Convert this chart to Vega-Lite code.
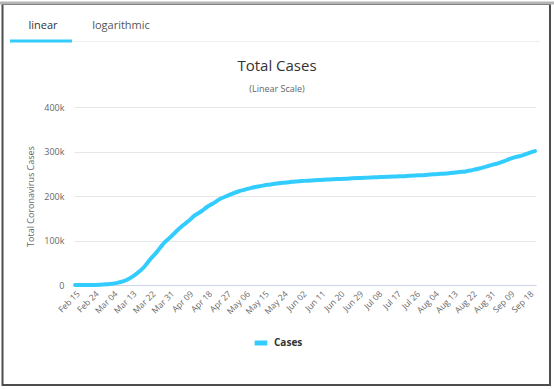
{
  "$schema": "https://vega.github.io/schema/vega-lite/v6.json",
  "width": 462,
  "height": 178,
  "autosize": "none",
  "padding": {"left": 74, "top": 107, "right": 18, "bottom": 104},
  "background": "white",
  "config": {
    "font": "Open Sans",
    "view": {"stroke": null}
  },
  "data": {
    "values": [
      {"date": "2020-02-15", "cases": 3},
      {"date": "2020-02-18", "cases": 3},
      {"date": "2020-02-21", "cases": 20},
      {"date": "2020-02-24", "cases": 229},
      {"date": "2020-02-27", "cases": 655},
      {"date": "2020-03-01", "cases": 1694},
      {"date": "2020-03-04", "cases": 3089},
      {"date": "2020-03-07", "cases": 5883},
      {"date": "2020-03-10", "cases": 10149},
      {"date": "2020-03-13", "cases": 17660},
      {"date": "2020-03-16", "cases": 27980},
      {"date": "2020-03-19", "cases": 41035},
      {"date": "2020-03-22", "cases": 59138},
      {"date": "2020-03-25", "cases": 74386},
      {"date": "2020-03-28", "cases": 92472},
      {"date": "2020-03-31", "cases": 105792},
      {"date": "2020-04-03", "cases": 119827},
      {"date": "2020-04-06", "cases": 132547},
      {"date": "2020-04-09", "cases": 143626},
      {"date": "2020-04-12", "cases": 156363},
      {"date": "2020-04-15", "cases": 165155},
      {"date": "2020-04-18", "cases": 175925},
      {"date": "2020-04-21", "cases": 183957},
      {"date": "2020-04-24", "cases": 192994},
      {"date": "2020-04-27", "cases": 199414},
      {"date": "2020-04-30", "cases": 205463},
      {"date": "2020-05-03", "cases": 210717},
      {"date": "2020-05-06", "cases": 214457},
      {"date": "2020-05-09", "cases": 218268},
      {"date": "2020-05-12", "cases": 221216},
      {"date": "2020-05-15", "cases": 223885},
      {"date": "2020-05-18", "cases": 225886},
      {"date": "2020-05-21", "cases": 228006},
      {"date": "2020-05-24", "cases": 229858},
      {"date": "2020-05-27", "cases": 231139},
      {"date": "2020-05-30", "cases": 232664},
      {"date": "2020-06-02", "cases": 233515},
      {"date": "2020-06-05", "cases": 234531},
      {"date": "2020-06-08", "cases": 235278},
      {"date": "2020-06-11", "cases": 236142},
      {"date": "2020-06-14", "cases": 236989},
      {"date": "2020-06-17", "cases": 237828},
      {"date": "2020-06-20", "cases": 238275},
      {"date": "2020-06-23", "cases": 238833},
      {"date": "2020-06-26", "cases": 239706},
      {"date": "2020-06-29", "cases": 240436},
      {"date": "2020-07-02", "cases": 240961},
      {"date": "2020-07-05", "cases": 241611},
      {"date": "2020-07-08", "cases": 242149},
      {"date": "2020-07-11", "cases": 242827},
      {"date": "2020-07-14", "cases": 243344},
      {"date": "2020-07-17", "cases": 243967},
      {"date": "2020-07-20", "cases": 244434},
      {"date": "2020-07-23", "cases": 245338},
      {"date": "2020-07-26", "cases": 246286},
      {"date": "2020-07-29", "cases": 246776},
      {"date": "2020-08-01", "cases": 247832},
      {"date": "2020-08-04", "cases": 248803},
      {"date": "2020-08-07", "cases": 249756},
      {"date": "2020-08-10", "cases": 250566},
      {"date": "2020-08-13", "cases": 252235},
      {"date": "2020-08-16", "cases": 253915},
      {"date": "2020-08-19", "cases": 255278},
      {"date": "2020-08-22", "cases": 258136},
      {"date": "2020-08-25", "cases": 261174},
      {"date": "2020-08-28", "cases": 264774},
      {"date": "2020-08-31", "cases": 269214},
      {"date": "2020-09-03", "cases": 272912},
      {"date": "2020-09-06", "cases": 277634},
      {"date": "2020-09-09", "cases": 283180},
      {"date": "2020-09-12", "cases": 287753},
      {"date": "2020-09-15", "cases": 291442},
      {"date": "2020-09-18", "cases": 296569},
      {"date": "2020-09-21", "cases": 300897}
    ]
  },
  "layer": [
    {
      "data": {"values": [{"frame": "border"}]},
      "mark": {"type": "rect", "fill": null, "stroke": "#4d4d4d", "strokeWidth": 2},
      "encoding": {
        "x": {"value": -71.5},
        "x2": {"value": 476},
        "y": {"value": -103},
        "y2": {"value": 278}
      }
    },
    {
      "data": {"values": [{"frame": "top"}]},
      "mark": {"type": "rule", "stroke": "#b5b5b5", "strokeWidth": 3},
      "encoding": {
        "x": {"value": -74},
        "x2": {"value": 480},
        "y": {"value": -104}
      }
    },
    {
      "data": {"values": [{"frame": "tabline"}]},
      "mark": {"type": "rule", "stroke": "#eeeeee", "strokeWidth": 1},
      "encoding": {
        "x": {"value": -64},
        "x2": {"value": 466},
        "y": {"value": -65.5}
      }
    },
    {
      "data": {"values": [{"frame": "tabactive"}]},
      "mark": {"type": "rule", "stroke": "#33ccff", "strokeWidth": 3},
      "encoding": {
        "x": {"value": -64},
        "x2": {"value": -2},
        "y": {"value": -66}
      }
    },
    {
      "data": {"values": [{"tab": "linear"}]},
      "mark": {"type": "text", "fontSize": 11, "color": "#333333", "align": "center", "baseline": "middle"},
      "encoding": {
        "text": {"field": "tab"},
        "x": {"value": -31},
        "y": {"value": -81}
      }
    },
    {
      "data": {"values": [{"tab": "logarithmic"}]},
      "mark": {"type": "text", "fontSize": 11, "color": "#555555", "align": "center", "baseline": "middle"},
      "encoding": {
        "text": {"field": "tab"},
        "x": {"value": 47},
        "y": {"value": -81}
      }
    },
    {
      "data": {"values": [{"heading": "Total Cases"}]},
      "mark": {"type": "text", "fontSize": 15, "color": "#333333", "align": "center", "baseline": "middle"},
      "encoding": {
        "text": {"field": "heading"},
        "x": {"value": 203},
        "y": {"value": -41}
      }
    },
    {
      "data": {"values": [{"heading": "(Linear Scale)"}]},
      "mark": {"type": "text", "fontSize": 9, "color": "#666666", "align": "center", "baseline": "middle"},
      "encoding": {
        "text": {"field": "heading"},
        "x": {"value": 203},
        "y": {"value": -18}
      }
    },
    {
      "mark": {"type": "line", "strokeWidth": 4, "interpolate": "monotone", "strokeCap": "round"},
      "encoding": {
        "x": {
          "field": "date",
          "type": "temporal",
          "scale": {
            "type": "utc",
            "domain": [
              {"year": 2020, "month": 2, "date": 14, "hours": 12, "utc": true},
              {"year": 2020, "month": 9, "date": 21, "hours": 12, "utc": true}
            ]
          },
          "axis": {
            "title": null,
            "values": [
              {"year": 2020, "month": 2, "date": 15, "utc": true},
              {"year": 2020, "month": 2, "date": 24, "utc": true},
              {"year": 2020, "month": 3, "date": 4, "utc": true},
              {"year": 2020, "month": 3, "date": 13, "utc": true},
              {"year": 2020, "month": 3, "date": 22, "utc": true},
              {"year": 2020, "month": 3, "date": 31, "utc": true},
              {"year": 2020, "month": 4, "date": 9, "utc": true},
              {"year": 2020, "month": 4, "date": 18, "utc": true},
              {"year": 2020, "month": 4, "date": 27, "utc": true},
              {"year": 2020, "month": 5, "date": 6, "utc": true},
              {"year": 2020, "month": 5, "date": 15, "utc": true},
              {"year": 2020, "month": 5, "date": 24, "utc": true},
              {"year": 2020, "month": 6, "date": 2, "utc": true},
              {"year": 2020, "month": 6, "date": 11, "utc": true},
              {"year": 2020, "month": 6, "date": 20, "utc": true},
              {"year": 2020, "month": 6, "date": 29, "utc": true},
              {"year": 2020, "month": 7, "date": 8, "utc": true},
              {"year": 2020, "month": 7, "date": 17, "utc": true},
              {"year": 2020, "month": 7, "date": 26, "utc": true},
              {"year": 2020, "month": 8, "date": 4, "utc": true},
              {"year": 2020, "month": 8, "date": 13, "utc": true},
              {"year": 2020, "month": 8, "date": 22, "utc": true},
              {"year": 2020, "month": 8, "date": 31, "utc": true},
              {"year": 2020, "month": 9, "date": 9, "utc": true},
              {"year": 2020, "month": 9, "date": 18, "utc": true}
            ],
            "format": "%b %d",
            "labelAngle": -45,
            "labelAlign": "right",
            "labelBaseline": "top",
            "labelFontSize": 8.5,
            "labelColor": "#666666",
            "labelPadding": 4,
            "labelOverlap": false,
            "labelFlush": false,
            "ticks": false,
            "grid": false,
            "domainColor": "#ccd6eb",
            "domainWidth": 1
          }
        },
        "y": {
          "field": "cases",
          "type": "quantitative",
          "scale": {"domain": [0, 400000], "nice": false},
          "axis": {
            "title": "Total Coronavirus Cases",
            "titleFontSize": 9,
            "titleFontWeight": "normal",
            "titleColor": "#666666",
            "titlePadding": 8,
            "values": [0, 100000, 200000, 300000, 400000],
            "labelExpr": "datum.value == 0 ? '0' : format(datum.value / 1000, 'd') + 'k'",
            "labelFontSize": 9,
            "labelColor": "#666666",
            "labelPadding": 10,
            "ticks": false,
            "domain": false,
            "gridColor": "#e6e6e6"
          }
        },
        "color": {
          "datum": "Cases",
          "scale": {"range": ["#33ccff"]},
          "legend": {
            "title": null,
            "orient": "none",
            "legendX": 178,
            "legendY": 227,
            "symbolType": "stroke",
            "symbolStrokeWidth": 5,
            "symbolSize": 160,
            "labelFontSize": 10,
            "labelFontWeight": "bold",
            "labelColor": "#333333"
          }
        }
      }
    }
  ]
}
